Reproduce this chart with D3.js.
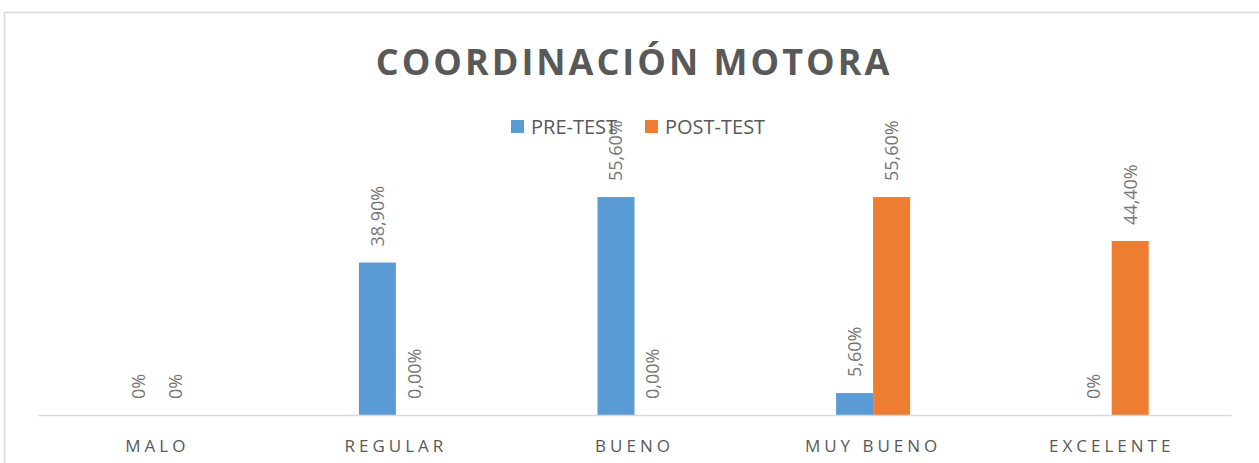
<!DOCTYPE html>
<html>
<head>
<meta charset="utf-8">
<script src="https://cdn.jsdelivr.net/npm/d3@7"></script>
<style>
  body { margin: 0; background: #fff; }
  text { font-family: "Open Sans", "Noto Sans", sans-serif; }
</style>
</head>
<body>
<div id="chart"></div>
<script>
// data
var categories = ["MALO", "REGULAR", "BUENO", "MUY BUENO", "EXCELENTE"];
var series = ["PRE-TEST", "POST-TEST"];
var preTest = [0, 38.9, 55.6, 5.6, 0];
var postTest = [0, 0, 0, 55.6, 44.4];
var preLabels = ["0%", "38,90%", "55,60%", "5,60%", "0%"];
var postLabels = ["0%", "0,00%", "0,00%", "55,60%", "44,40%"];
var colors = ["#5b9bd5", "#ed7d31"];

var width = 1259, height = 463;
var margin = {left: 38, right: 28, top: 180, bottom: 48};

var svg = d3.select("#chart").append("svg")
    .attr("width", width)
    .attr("height", height);

svg.append("rect")
    .attr("width", width).attr("height", height)
    .attr("fill", "#fff");

// chart frame (runs off the right and bottom edge)
svg.append("rect")
    .attr("x", 4.5).attr("y", 12.5)
    .attr("width", width + 20).attr("height", height + 20)
    .attr("fill", "none")
    .attr("stroke", "#d9d9d9")
    .attr("stroke-width", 1.5);

var x0 = d3.scaleBand()
    .domain(categories)
    .range([margin.left, width - margin.right]);

var x1 = d3.scaleBand()
    .domain(series)
    .range([-37, 37]);

var y = d3.scaleLinear()
    .domain([0, 60])
    .range([height - margin.bottom, height - margin.bottom - 235.2]);

var rows = categories.map(function(c, i) {
  return {cat: c, vals: [
    {s: series[0], v: preTest[i], label: preLabels[i]},
    {s: series[1], v: postTest[i], label: postLabels[i]}
  ]};
});

var groups = svg.selectAll("g.cat")
    .data(rows)
    .enter().append("g")
    .attr("class", "cat")
    .attr("transform", function(d) {
      return "translate(" + (x0(d.cat) + x0.bandwidth() / 2) + ",0)";
    });

groups.selectAll("rect")
    .data(function(d) { return d.vals; })
    .enter().append("rect")
    .attr("x", function(d) { return x1(d.s); })
    .attr("width", x1.bandwidth())
    .attr("y", function(d) { return y(d.v); })
    .attr("height", function(d) { return y(0) - y(d.v); })
    .attr("fill", function(d, i) { return colors[i]; });

// rotated value labels
groups.selectAll("text.val")
    .data(function(d) { return d.vals; })
    .enter().append("text")
    .attr("class", "val")
    .attr("transform", function(d) {
      var cx = x1(d.s) + x1.bandwidth() / 2;
      return "translate(" + cx + "," + (y(d.v) - 16) + ") rotate(-90)";
    })
    .attr("dy", "0.35em")
    .attr("text-anchor", "start")
    .attr("fill", "#767676")
    .style("font-size", "18px")
    .text(function(d) { return d.label; });

// x axis
var xAxis = svg.append("g")
    .attr("transform", "translate(0," + y(0) + ")")
    .call(d3.axisBottom(x0).tickSize(0).tickPadding(25));
xAxis.select(".domain")
    .attr("stroke", "#d9d9d9")
    .attr("stroke-width", 1.5);
xAxis.selectAll("text")
    .attr("fill", "#595959")
    .style("font-size", "17px")
    .style("letter-spacing", "4px")
    .style("font-family", "'Open Sans', sans-serif");

// title
svg.append("text")
    .attr("x", 634)
    .attr("y", 75)
    .attr("text-anchor", "middle")
    .attr("fill", "#595959")
    .style("font-size", "36px")
    .style("font-weight", "bold")
    .style("letter-spacing", "3px")
    .text("COORDINACIÓN MOTORA");

// legend
var legendX = [511, 645];
var legend = svg.selectAll("g.legend")
    .data(series)
    .enter().append("g")
    .attr("class", "legend")
    .attr("transform", function(d, i) { return "translate(" + legendX[i] + ",120)"; });

legend.append("rect")
    .attr("width", 13).attr("height", 13)
    .attr("fill", function(d, i) { return colors[i]; });

legend.append("text")
    .attr("x", 20)
    .attr("y", 7)
    .attr("dy", "0.35em")
    .attr("fill", "#595959")
    .style("font-size", "20px")
    .text(function(d) { return d; });
</script>
</body>
</html>
